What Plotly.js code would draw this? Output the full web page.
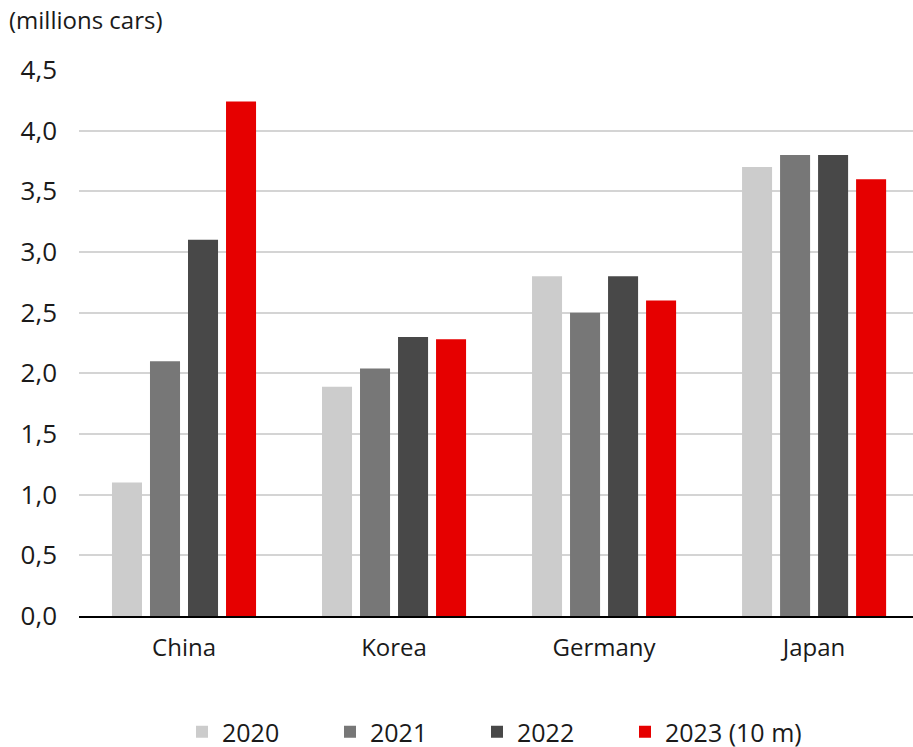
<!DOCTYPE html>
<html>
<head>
<meta charset="utf-8">
<script src="https://cdn.plot.ly/plotly-3.0.1.min.js"></script>
<style>html,body{margin:0;padding:0;background:#fff}#chart{width:913px;height:747px}</style>
</head>
<body>
<div id="chart"></div>
<script>
// Car production by country, millions of cars
const countries = ["China", "Korea", "Germany", "Japan"];
const seriesNames = ["2020", "2021", "2022", "2023 (10 m)"];
const values2020 = [1.1, 1.89, 2.8, 3.7];
const values2021 = [2.1, 2.04, 2.5, 3.8];
const values2022 = [3.1, 2.3, 2.8, 3.8];
const values2023 = [4.24, 2.28, 2.6, 3.6];
const yTicks = [0, 0.5, 1, 1.5, 2, 2.5, 3, 3.5, 4, 4.5];

const colors = ["#cccccc", "#777777", "#484848", "#e60000"];
const allValues = [values2020, values2021, values2022, values2023];
const legendIds = ["legend", "legend2", "legend3", "legend4"];

const traces = allValues.map((vals, i) => ({
  type: "bar",
  name: seriesNames[i],
  x: countries,
  y: vals,
  legend: legendIds[i],
  marker: { color: colors[i], line: { width: 0 } },
  hoverinfo: "x+y+name"
}));

const font = "'Open Sans', 'Noto Sans', sans-serif";

// plot area geometry used to place the legend entries in one row
const plotLeft = 79, plotWidth = 834, plotBottom = 616, plotHeight = 546;
const legendLefts = [182, 330, 477, 625];

const layout = {
  width: 913,
  height: 747,
  margin: { l: 79, r: 0, t: 70, b: 131, autoexpand: false },
  paper_bgcolor: "#ffffff",
  plot_bgcolor: "#ffffff",
  separators: ",.",
  font: { family: font, color: "#1a1a1a", size: 20 },
  barmode: "group",
  bargap: 0.276,
  bargroupgap: 0.21,
  title: {
    text: "(millions cars)",
    xref: "container", yref: "container",
    x: 9 / 913, xanchor: "left",
    y: 1 - 21 / 747, yanchor: "middle",
    font: { family: font, size: 24, color: "#1a1a1a" }
  },
  xaxis: {
    range: [-0.5, 3.471],
    showgrid: false,
    showline: true,
    linecolor: "#000000",
    linewidth: 2,
    ticks: "",
    tickfont: { family: font, size: 24, color: "#1a1a1a" },
    ticklabelstandoff: 9
  },
  yaxis: {
    range: [0, 4.5],
    tickvals: yTicks,
    tickformat: ".1f",
    showgrid: true,
    gridcolor: "#d4d4d4",
    gridwidth: 2,
    zeroline: false,
    showline: false,
    ticks: "",
    ticklabelstandoff: 21,
    tickfont: { family: font, size: 26, color: "#1a1a1a" }
  },
  showlegend: true
};

legendIds.forEach((id, i) => {
  layout[id] = {
    orientation: "h",
    x: (legendLefts[i] - plotLeft) / plotWidth, xanchor: "left",
    y: (plotBottom - 732) / plotHeight, yanchor: "middle",
    bgcolor: "rgba(0,0,0,0)",
    font: { family: font, size: 25, color: "#1a1a1a" }
  };
});

Plotly.newPlot("chart", traces, layout, { displayModeBar: false, staticPlot: true });
</script>
</body>
</html>
